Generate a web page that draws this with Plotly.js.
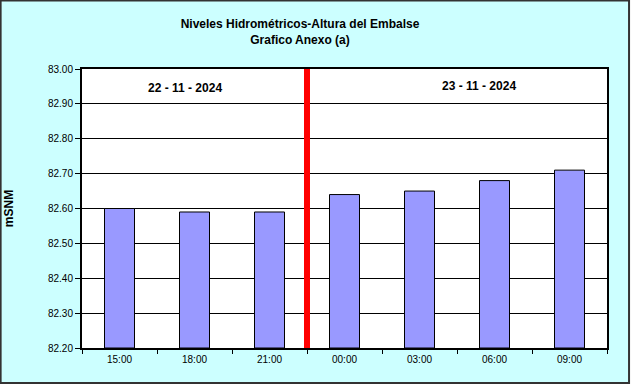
<!DOCTYPE html>
<html>
<head>
<meta charset="utf-8">
<script src="https://cdn.plot.ly/plotly-3.0.1.min.js"></script>
<style>html,body{margin:0;padding:0;background:#fff;}#chart{width:633px;height:386px;}</style>
</head>
<body>
<div id="chart"></div>
<script>
var categories = ["15:00", "18:00", "21:00", "00:00", "03:00", "06:00", "09:00"];
var levels = [82.60, 82.59, 82.59, 82.64, 82.65, 82.68, 82.71];
var dayLabels = ["22 - 11 - 2024", "23 - 11 - 2024"];
var dayLabelPos = [0.876, 4.787];
var dayLabelY = [82.9456, 82.951];
var dividerPos = 2.5;
var yTicks = [82.2, 82.3, 82.4, 82.5, 82.6, 82.7, 82.8, 82.9, 83.0];
var yBase = 82.2;

var trace = {
  type: 'bar',
  x: categories,
  y: levels.map(function(v){ return v - yBase; }),
  base: yBase,
  marker: {color: '#9999FF', line: {color: '#000', width: 1}},
  width: 0.4,
  hoverinfo: 'skip'
};

var layout = {
  width: 633, height: 386,
  margin: {l: 82, r: 26, t: 69, b: 38},
  paper_bgcolor: '#ffffff',
  plot_bgcolor: '#ffffff',
  showlegend: false,
  font: {family: 'Liberation Sans, Arial, sans-serif', color: '#000'},
  title: {
    text: '<b>Niveles Hidrométricos-Altura del Embalse<br>Grafico Anexo (a)</b>',
    font: {size: 12, color: '#000'},
    x: 300/633, xref: 'container', xanchor: 'center',
    y: 1 - 28/386, yref: 'container', yanchor: 'middle'
  },
  xaxis: {
    type: 'category',
    range: [-0.5, 6.5],
    tickson: 'boundaries',
    ticks: 'outside', ticklen: 4, tickcolor: '#000', tickwidth: 1,
    tickfont: {size: 10, color: '#000'},
    ticklabelstandoff: 1,
    showgrid: false,
    showline: true, linecolor: '#000', linewidth: 2, mirror: true,
    zeroline: false, fixedrange: true
  },
  yaxis: {
    range: [82.2, 83.0],
    tickmode: 'array',
    tickvals: yTicks,
    ticktext: yTicks.map(function(v){ return v.toFixed(2); }),
    ticks: 'outside', ticklen: 5, tickcolor: '#000', tickwidth: 1,
    tickfont: {size: 10, color: '#000'},
    showgrid: true, gridcolor: '#000', gridwidth: 1,
    showline: true, linecolor: '#000', linewidth: 2, mirror: true,
    zeroline: false, fixedrange: true,
    title: {text: '<b>mSNM</b>', font: {size: 12, color: '#000'}, standoff: 32}
  },
  shapes: [
    {type: 'rect', xref: 'paper', yref: 'paper', layer: 'below',
     x0: -0.155, x1: 1.042, y0: -0.125, y1: 1.2455,
     fillcolor: '#CCFFFF', line: {color: '#333', width: 2}},
    {type: 'rect', xref: 'paper', yref: 'paper', layer: 'below',
     x0: 0, x1: 1, y0: 0, y1: 1,
     fillcolor: '#FFFFFF', line: {width: 0}},
    {type: 'line', xref: 'x', yref: 'paper', x0: dividerPos, x1: dividerPos, y0: 0, y1: 1,
     line: {color: '#FF0000', width: 6}}
  ],
  annotations: dayLabels.map(function(t, i){
    return {text: '<b>' + t + '</b>', x: dayLabelPos[i], y: dayLabelY[i],
            xref: 'x', yref: 'y', showarrow: false,
            font: {size: 12, color: '#000'}};
  })
};

Plotly.newPlot('chart', [trace], layout, {staticPlot: true, displayModeBar: false});
</script>
</body>
</html>
